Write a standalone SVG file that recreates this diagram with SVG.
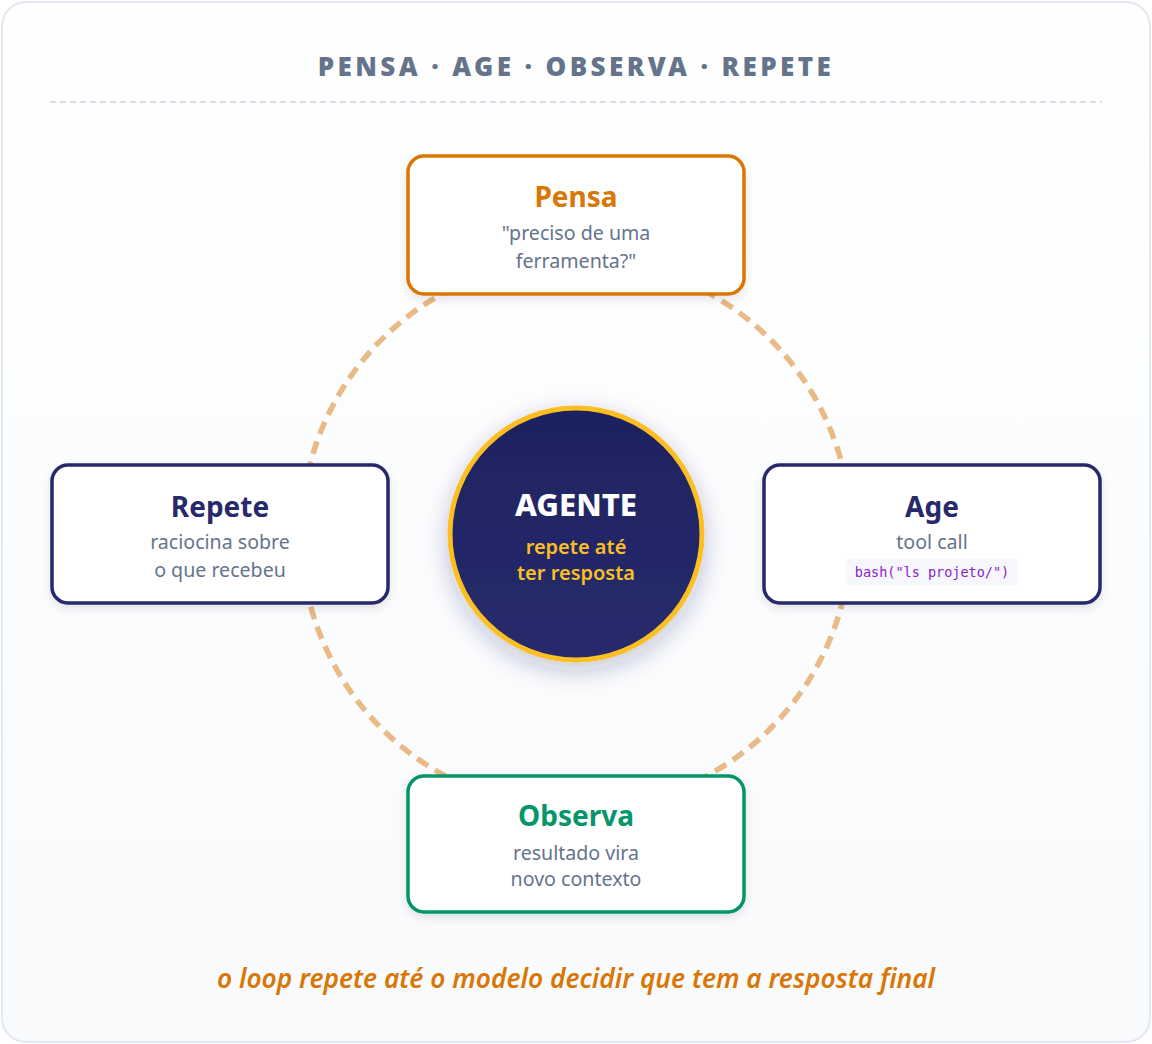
<svg xmlns="http://www.w3.org/2000/svg" width="1152" height="1044" viewBox="0 0 1152 1044">
<defs>
<linearGradient id="bg" x1="0" y1="0" x2="0" y2="1">
<stop offset="0" stop-color="#ffffff"/>
<stop offset="1" stop-color="#f8fafc"/>
</linearGradient>
<linearGradient id="core" x1="0" y1="0" x2="0" y2="1">
<stop offset="0" stop-color="#1e2260"/>
<stop offset="1" stop-color="#272c6c"/>
</linearGradient>
<filter id="shadow" x="-20%" y="-20%" width="140%" height="150%">
<feDropShadow dx="0" dy="4" stdDeviation="5" flood-color="#0f172a" flood-opacity="0.10"/>
</filter>
<filter id="glow" x="-40%" y="-40%" width="180%" height="180%">
<feDropShadow dx="0" dy="8" stdDeviation="12" flood-color="#1e2260" flood-opacity="0.25"/>
</filter>
<style>
text{font-family:"Noto Sans","Open Sans","DejaVu Sans",sans-serif;text-anchor:middle}
.box{fill:#ffffff;stroke-width:3.5}
.ttl{font-size:28px;font-weight:700}
.sub{font-size:19.6px;fill:#64748b}
.code{font-family:"DejaVu Sans Mono","Liberation Mono",monospace;font-size:13.5px;fill:#9021c8}
</style>
</defs>
<rect x="2" y="2" width="1148" height="1040" rx="24" fill="url(#bg)" stroke="#e2e8f0" stroke-width="2"/>
<text x="576" y="76" font-size="26" font-weight="900" fill="#64748b" letter-spacing="3.4">PENSA · AGE · OBSERVA · REPETE</text>
<line x1="50" y1="102" x2="1102" y2="102" stroke="#cdd3e2" stroke-width="1.5" stroke-dasharray="6 4"/>
<g id="connectors">
<circle cx="576" cy="534" r="275" fill="none" stroke="#e9b986" stroke-width="5.5" stroke-dasharray="13 8"/>
</g>
<g id="pensa">
<rect class="box" x="408" y="156" width="336" height="138" rx="16" stroke="#d97706" filter="url(#shadow)"/>
<text class="ttl" x="576" y="207" fill="#d97706">Pensa</text>
<text class="sub" x="576" y="240">"preciso de uma</text>
<text class="sub" x="576" y="268">ferramenta?"</text>
</g>
<g id="age">
<rect class="box" x="764" y="465" width="336" height="138" rx="16" stroke="#27296b" filter="url(#shadow)"/>
<text class="ttl" x="932" y="517" fill="#27296b">Age</text>
<text class="sub" x="932" y="549">tool call</text>
<rect x="846" y="559" width="172" height="26" rx="3" fill="#f5f7fa"/>
<text class="code" x="932" y="577">bash("ls projeto/")</text>
</g>
<g id="repete">
<rect class="box" x="52" y="465" width="336" height="138" rx="16" stroke="#27296b" filter="url(#shadow)"/>
<text class="ttl" x="220" y="517" fill="#27296b">Repete</text>
<text class="sub" x="220" y="549">raciocina sobre</text>
<text class="sub" x="220" y="577">o que recebeu</text>
</g>
<g id="observa">
<rect class="box" x="408" y="776" width="336" height="136" rx="16" stroke="#059669" filter="url(#shadow)"/>
<text class="ttl" x="576" y="826" fill="#059669">Observa</text>
<text class="sub" x="576" y="860">resultado vira</text>
<text class="sub" x="576" y="886">novo contexto</text>
</g>
<g id="agente">
<circle cx="576" cy="534" r="126" fill="url(#core)" stroke="#fbbf24" stroke-width="5" filter="url(#glow)"/>
<text x="576" y="516" font-size="31" font-weight="800" fill="#ffffff">AGENTE</text>
<text x="576" y="554" font-size="20" font-weight="600" fill="#fbbf24">repete até</text>
<text x="576" y="580" font-size="20" font-weight="600" fill="#fbbf24">ter resposta</text>
</g>
<text x="576" y="988" font-size="26.3" font-weight="600" font-style="italic" fill="#d97706">o loop repete até o modelo decidir que tem a resposta final</text>
</svg>
